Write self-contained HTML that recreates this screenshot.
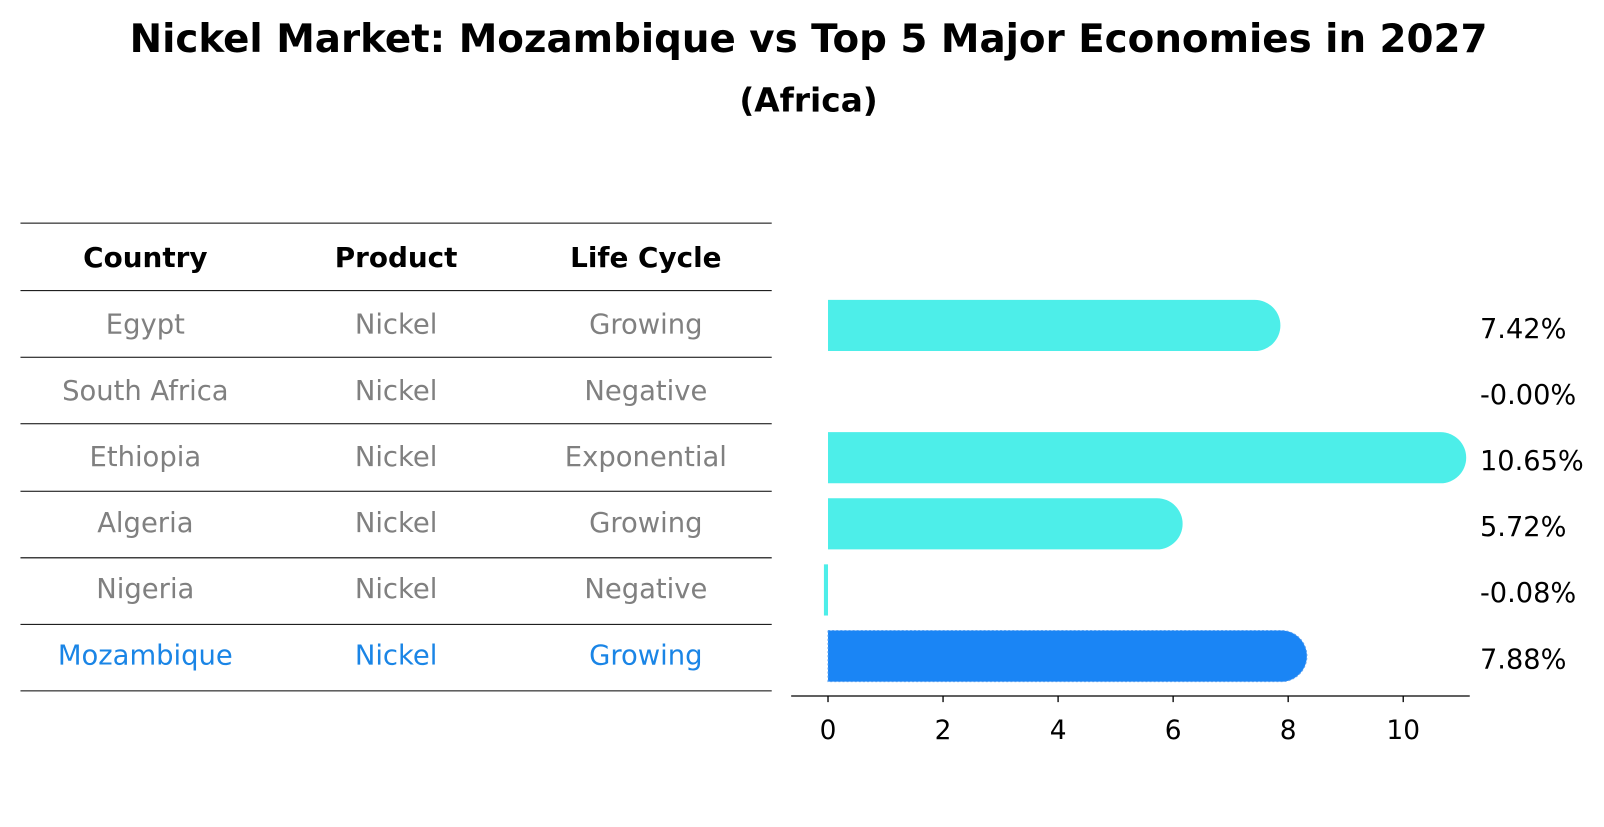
<!DOCTYPE html>
<html><head><meta charset="utf-8"><style>
body{margin:0;background:#fff;font-family:"DejaVu Sans","Liberation Sans",sans-serif}
svg text{font-family:"DejaVu Sans","Liberation Sans",sans-serif}
</style></head><body>
<svg id="c" width="1604" height="823" viewBox="0 0 1604 823" xmlns="http://www.w3.org/2000/svg">
<g transform="scale(1.0235)">
<text x="790" y="51" text-anchor="middle" font-size="37.9" font-weight="bold">Nickel Market: Mozambique vs Top 5 Major Economies in 2027</text>
<text x="790" y="109" text-anchor="middle" font-size="32" font-weight="bold">(Africa)</text>
<g id="tbl"></g>
<g id="bars"></g>
</g>
</svg>
<script>
const countries=["Egypt","South Africa","Ethiopia","Algeria","Nigeria","Mozambique"];
const products=["Nickel","Nickel","Nickel","Nickel","Nickel","Nickel"];
const cycles=["Growing","Negative","Exponential","Growing","Negative","Growing"];
const values=[7.42,-0.00,10.65,5.72,-0.08,7.88];
const labels=["7.42%","-0.00%","10.65%","5.72%","-0.08%","7.88%"];
const ticks=[0,2,4,6,8,10];
const NS="http://www.w3.org/2000/svg";
function mk(p,t,a,txt){const e=document.createElementNS(NS,t);for(const k in a)e.setAttribute(k,a[k]);if(txt!==undefined)e.textContent=txt;p.appendChild(e);return e;}
const tbl=document.getElementById('tbl'),bars=document.getElementById('bars');
const x=v=>809+v*56.2;
const rowY=i=>316+i*64.6;
const lineYs=[218,284,349,414,480,545,610,675];
lineYs.forEach(y=>{const l=mk(tbl,'line',{x1:20,x2:754,y1:y,y2:y,stroke:'#000','stroke-width':1});

});
const cx=[142,387,631];
["Country","Product","Life Cycle"].forEach((h,j)=>{const t=mk(tbl,'text',{x:cx[j],y:261,'text-anchor':'middle','font-size':27.2,'font-weight':'bold'},h);

});
countries.forEach((c,i)=>{const col=i===countries.length-1?'#1a85e6':'#808080';
[c,products[i],cycles[i]].forEach((s,j)=>{const t=mk(tbl,'text',{x:cx[j],y:rowY(i)+10,'text-anchor':'middle','font-size':26.8,fill:col},s);

});});
const h=50,r=25;
values.forEach((v,i)=>{const yc=rowY(i)+2,y0=yc-h/2;const last=i===values.length-1;const col=last?'#1a85f5':'#4deee9';
let el;
if(v>0.05){const xe=x(v);el=mk(bars,'path',{d:`M${x(0)},${y0}H${xe}A${r},${r} 0 0 1 ${xe},${y0+h}H${x(0)}Z`,fill:col});
if(last){el.setAttribute('stroke','#5aa0f0');el.setAttribute('stroke-dasharray','2,2');el.setAttribute('stroke-width','1');}}
else if(v<-0.01){el=mk(bars,'rect',{x:x(0)-4,y:y0,width:4,height:h,fill:col});}
else{el=mk(bars,'rect',{x:x(0),y:y0,width:0,height:h,fill:col});}


const t=mk(bars,'text',{x:1446,y:yc+12,'font-size':26.6},labels[i]);

});
const ax=mk(bars,'line',{x1:773,x2:1436,y1:680,y2:680,stroke:'#000','stroke-width':1.3});


ticks.forEach(tv=>{const l=mk(bars,'line',{x1:x(tv),x2:x(tv),y1:680,y2:686,stroke:'#000','stroke-width':1.3});


const t=mk(bars,'text',{x:x(tv),y:722,'text-anchor':'middle','font-size':25.8},String(tv));

});
</script>
</body></html>
